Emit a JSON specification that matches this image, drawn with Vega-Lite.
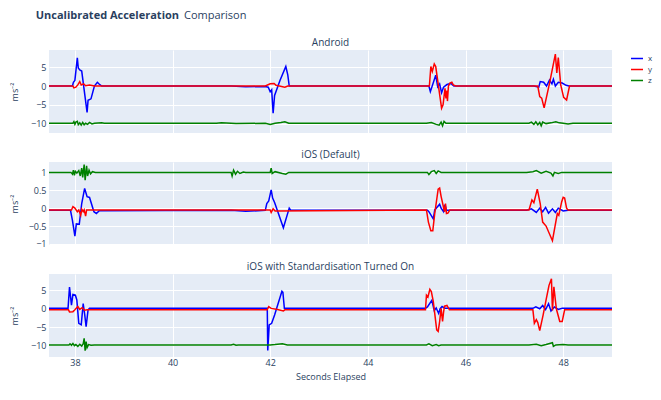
{
  "$schema": "https://vega.github.io/schema/vega-lite/v6.json",
  "padding": {"left": 10, "top": 10, "right": 2, "bottom": 5},
  "title": {"text": "Comparison", "anchor": "start", "fontSize": 11, "fontWeight": "normal", "dx": 174, "dy": 11, "offset": 0},
  "config": {
    "font": "Open Sans",
    "view": {"fill": "#E5ECF6", "stroke": null},
    "axis": {"grid": true, "gridColor": "white", "gridWidth": 1, "domain": false, "ticks": false, "labelColor": "#2a3f5f", "labelFontSize": 9, "labelPadding": 3, "titleColor": "#2a3f5f", "titleFontSize": 9, "titleFontWeight": "normal"},
    "title": {"fontSize": 10, "fontWeight": "normal", "color": "#2a3f5f", "offset": 2},
    "legend": {"labelColor": "#2a3f5f", "labelFontSize": 8}
  },
  "datasets": {
    "android": [
      {"s": "x", "t": 37.47, "v": 0}, {"s": "x", "t": 37.95, "v": 0}, {"s": "x", "t": 37.97, "v": 1.0}, {"s": "x", "t": 38.0, "v": 1.5},
      {"s": "x", "t": 38.05, "v": 7.5}, {"s": "x", "t": 38.07, "v": 4.8}, {"s": "x", "t": 38.1, "v": 4.3}, {"s": "x", "t": 38.14, "v": 4.0},
      {"s": "x", "t": 38.25, "v": -7.0}, {"s": "x", "t": 38.27, "v": -3.8}, {"s": "x", "t": 38.33, "v": -3.4}, {"s": "x", "t": 38.4, "v": 0.0},
      {"s": "x", "t": 38.46, "v": 1.0}, {"s": "x", "t": 38.49, "v": 0.6}, {"s": "x", "t": 38.55, "v": 0}, {"s": "x", "t": 41.2, "v": 0},
      {"s": "x", "t": 41.5, "v": -0.2}, {"s": "x", "t": 41.9, "v": -0.1}, {"s": "x", "t": 41.96, "v": -0.3}, {"s": "x", "t": 42.0, "v": -1.5},
      {"s": "x", "t": 42.03, "v": -1.0}, {"s": "x", "t": 42.06, "v": -7.2}, {"s": "x", "t": 42.09, "v": -2.5}, {"s": "x", "t": 42.2, "v": 1.5},
      {"s": "x", "t": 42.32, "v": 5.2}, {"s": "x", "t": 42.36, "v": 3.0}, {"s": "x", "t": 42.39, "v": 0}, {"s": "x", "t": 45.25, "v": 0},
      {"s": "x", "t": 45.28, "v": -1.5}, {"s": "x", "t": 45.39, "v": 2.9}, {"s": "x", "t": 45.43, "v": -0.2}, {"s": "x", "t": 45.47, "v": 0.6},
      {"s": "x", "t": 45.51, "v": -1.8}, {"s": "x", "t": 45.55, "v": -0.3}, {"s": "x", "t": 45.62, "v": 0.4}, {"s": "x", "t": 45.7, "v": 0.7},
      {"s": "x", "t": 45.76, "v": 0}, {"s": "x", "t": 47.4, "v": 0}, {"s": "x", "t": 47.5, "v": -0.3}, {"s": "x", "t": 47.53, "v": 1.2},
      {"s": "x", "t": 47.6, "v": 1.0}, {"s": "x", "t": 47.66, "v": 0}, {"s": "x", "t": 47.72, "v": 1.6}, {"s": "x", "t": 47.77, "v": 0.6},
      {"s": "x", "t": 47.8, "v": 1.8}, {"s": "x", "t": 47.84, "v": 0}, {"s": "x", "t": 47.9, "v": 1.0}, {"s": "x", "t": 47.98, "v": 0.8},
      {"s": "x", "t": 48.06, "v": 0.2}, {"s": "x", "t": 48.12, "v": 0}, {"s": "x", "t": 49.0, "v": 0},
      {"s": "y", "t": 37.47, "v": 0}, {"s": "y", "t": 37.96, "v": 0}, {"s": "y", "t": 37.98, "v": -0.5}, {"s": "y", "t": 38.02, "v": -0.3},
      {"s": "y", "t": 38.06, "v": 0.3}, {"s": "y", "t": 38.1, "v": 1.2}, {"s": "y", "t": 38.13, "v": 0.3}, {"s": "y", "t": 38.18, "v": 0.6},
      {"s": "y", "t": 38.22, "v": 0.1}, {"s": "y", "t": 38.3, "v": 0.3}, {"s": "y", "t": 38.4, "v": 0}, {"s": "y", "t": 41.9, "v": 0},
      {"s": "y", "t": 42.0, "v": 0.6}, {"s": "y", "t": 42.08, "v": 0.7}, {"s": "y", "t": 42.12, "v": 0.2}, {"s": "y", "t": 42.3, "v": -0.3},
      {"s": "y", "t": 42.36, "v": 0}, {"s": "y", "t": 45.26, "v": 0}, {"s": "y", "t": 45.29, "v": 5.2}, {"s": "y", "t": 45.32, "v": 3.9},
      {"s": "y", "t": 45.36, "v": 5.9}, {"s": "y", "t": 45.39, "v": 5.2}, {"s": "y", "t": 45.51, "v": -5.9}, {"s": "y", "t": 45.54, "v": -5.0},
      {"s": "y", "t": 45.58, "v": -0.6}, {"s": "y", "t": 45.6, "v": -3.3}, {"s": "y", "t": 45.62, "v": -1.2}, {"s": "y", "t": 45.63, "v": -4.0},
      {"s": "y", "t": 45.65, "v": 0}, {"s": "y", "t": 45.68, "v": 0.8}, {"s": "y", "t": 45.72, "v": 1.0}, {"s": "y", "t": 45.75, "v": 0.3},
      {"s": "y", "t": 45.8, "v": 0}, {"s": "y", "t": 47.48, "v": 0}, {"s": "y", "t": 47.52, "v": -2.8}, {"s": "y", "t": 47.56, "v": -3.2},
      {"s": "y", "t": 47.61, "v": -5.8}, {"s": "y", "t": 47.72, "v": 0.7}, {"s": "y", "t": 47.84, "v": 8.5}, {"s": "y", "t": 47.87, "v": 3.5},
      {"s": "y", "t": 47.9, "v": 7.6}, {"s": "y", "t": 47.95, "v": 0.3}, {"s": "y", "t": 48.01, "v": -3.0}, {"s": "y", "t": 48.07, "v": -3.7},
      {"s": "y", "t": 48.13, "v": 0}, {"s": "y", "t": 49.0, "v": 0},
      {"s": "z", "t": 37.47, "v": -9.9}, {"s": "z", "t": 37.96, "v": -9.9}, {"s": "z", "t": 37.98, "v": -9.5}, {"s": "z", "t": 38.0, "v": -10.2},
      {"s": "z", "t": 38.02, "v": -9.6}, {"s": "z", "t": 38.05, "v": -9.4}, {"s": "z", "t": 38.07, "v": -10.3}, {"s": "z", "t": 38.1, "v": -9.8},
      {"s": "z", "t": 38.13, "v": -10.4}, {"s": "z", "t": 38.16, "v": -9.7}, {"s": "z", "t": 38.19, "v": -10.3}, {"s": "z", "t": 38.22, "v": -9.9},
      {"s": "z", "t": 38.26, "v": -10.2}, {"s": "z", "t": 38.3, "v": -9.7}, {"s": "z", "t": 38.35, "v": -10.1}, {"s": "z", "t": 38.4, "v": -9.9},
      {"s": "z", "t": 38.55, "v": -9.8}, {"s": "z", "t": 38.6, "v": -9.9}, {"s": "z", "t": 40.9, "v": -9.9}, {"s": "z", "t": 41.0, "v": -9.8},
      {"s": "z", "t": 41.3, "v": -10.0}, {"s": "z", "t": 41.9, "v": -9.9}, {"s": "z", "t": 42.0, "v": -10.2}, {"s": "z", "t": 42.1, "v": -9.9},
      {"s": "z", "t": 42.22, "v": -9.7}, {"s": "z", "t": 42.3, "v": -9.5}, {"s": "z", "t": 42.38, "v": -9.9}, {"s": "z", "t": 44.5, "v": -9.9},
      {"s": "z", "t": 45.2, "v": -9.9}, {"s": "z", "t": 45.3, "v": -9.7}, {"s": "z", "t": 45.4, "v": -10.2}, {"s": "z", "t": 45.46, "v": -10.4},
      {"s": "z", "t": 45.5, "v": -9.6}, {"s": "z", "t": 45.53, "v": -10.6}, {"s": "z", "t": 45.56, "v": -9.4}, {"s": "z", "t": 45.6, "v": -9.9},
      {"s": "z", "t": 47.3, "v": -9.9}, {"s": "z", "t": 47.35, "v": -9.6}, {"s": "z", "t": 47.4, "v": -10.2}, {"s": "z", "t": 47.44, "v": -9.5},
      {"s": "z", "t": 47.48, "v": -10.3}, {"s": "z", "t": 47.52, "v": -9.7}, {"s": "z", "t": 47.55, "v": -10.6}, {"s": "z", "t": 47.58, "v": -9.6},
      {"s": "z", "t": 47.65, "v": -10.0}, {"s": "z", "t": 47.75, "v": -9.8}, {"s": "z", "t": 47.85, "v": -9.5}, {"s": "z", "t": 47.92, "v": -9.8},
      {"s": "z", "t": 48.0, "v": -9.9}, {"s": "z", "t": 48.1, "v": -10.1}, {"s": "z", "t": 48.2, "v": -9.9}, {"s": "z", "t": 49.0, "v": -9.9}
    ],
    "ios": [
      {"s": "x", "t": 37.47, "v": -0.06}, {"s": "x", "t": 37.91, "v": -0.06}, {"s": "x", "t": 37.95, "v": -0.34}, {"s": "x", "t": 38.0, "v": -0.78},
      {"s": "x", "t": 38.03, "v": -0.44}, {"s": "x", "t": 38.09, "v": -0.45}, {"s": "x", "t": 38.14, "v": 0.13}, {"s": "x", "t": 38.2, "v": 0.55},
      {"s": "x", "t": 38.25, "v": 0.32}, {"s": "x", "t": 38.3, "v": 0.3}, {"s": "x", "t": 38.39, "v": -0.1}, {"s": "x", "t": 38.44, "v": -0.15},
      {"s": "x", "t": 38.5, "v": -0.07}, {"s": "x", "t": 41.2, "v": -0.06}, {"s": "x", "t": 41.5, "v": -0.09}, {"s": "x", "t": 41.9, "v": -0.06},
      {"s": "x", "t": 41.93, "v": 0.13}, {"s": "x", "t": 41.97, "v": 0.2}, {"s": "x", "t": 42.02, "v": 0.51}, {"s": "x", "t": 42.05, "v": 0.28},
      {"s": "x", "t": 42.09, "v": 0.16}, {"s": "x", "t": 42.27, "v": -0.55}, {"s": "x", "t": 42.39, "v": 0.0}, {"s": "x", "t": 42.42, "v": -0.06},
      {"s": "x", "t": 45.22, "v": -0.06}, {"s": "x", "t": 45.25, "v": -0.1}, {"s": "x", "t": 45.34, "v": -0.3}, {"s": "x", "t": 45.37, "v": -0.05},
      {"s": "x", "t": 45.47, "v": 0.11}, {"s": "x", "t": 45.5, "v": 0.0}, {"s": "x", "t": 45.55, "v": -0.1}, {"s": "x", "t": 45.58, "v": 0.1},
      {"s": "x", "t": 45.61, "v": -0.06}, {"s": "x", "t": 47.25, "v": -0.06}, {"s": "x", "t": 47.35, "v": -0.02}, {"s": "x", "t": 47.45, "v": -0.12},
      {"s": "x", "t": 47.52, "v": 0.0}, {"s": "x", "t": 47.58, "v": -0.1}, {"s": "x", "t": 47.64, "v": 0.02}, {"s": "x", "t": 47.7, "v": -0.14},
      {"s": "x", "t": 47.78, "v": -0.02}, {"s": "x", "t": 47.84, "v": -0.12}, {"s": "x", "t": 47.9, "v": 0.0}, {"s": "x", "t": 48.0, "v": -0.08},
      {"s": "x", "t": 48.1, "v": -0.06}, {"s": "x", "t": 49.0, "v": -0.06},
      {"s": "y", "t": 37.47, "v": -0.05}, {"s": "y", "t": 37.93, "v": -0.05}, {"s": "y", "t": 37.96, "v": 0.04}, {"s": "y", "t": 38.0, "v": 0.0},
      {"s": "y", "t": 38.05, "v": -0.1}, {"s": "y", "t": 38.08, "v": -0.05}, {"s": "y", "t": 38.12, "v": -0.2}, {"s": "y", "t": 38.14, "v": -0.03},
      {"s": "y", "t": 38.17, "v": -0.1}, {"s": "y", "t": 38.19, "v": -0.05}, {"s": "y", "t": 38.22, "v": -0.22}, {"s": "y", "t": 38.24, "v": -0.05},
      {"s": "y", "t": 38.4, "v": -0.05}, {"s": "y", "t": 42.0, "v": -0.05}, {"s": "y", "t": 42.02, "v": -0.12}, {"s": "y", "t": 42.06, "v": -0.02},
      {"s": "y", "t": 42.1, "v": -0.08}, {"s": "y", "t": 45.2, "v": -0.05}, {"s": "y", "t": 45.24, "v": -0.39}, {"s": "y", "t": 45.29, "v": -0.63},
      {"s": "y", "t": 45.33, "v": -0.63}, {"s": "y", "t": 45.37, "v": -0.15}, {"s": "y", "t": 45.44, "v": 0.53}, {"s": "y", "t": 45.47, "v": 0.56},
      {"s": "y", "t": 45.5, "v": 0.33}, {"s": "y", "t": 45.57, "v": -0.1}, {"s": "y", "t": 45.59, "v": 0.13}, {"s": "y", "t": 45.61, "v": -0.15},
      {"s": "y", "t": 45.64, "v": -0.14}, {"s": "y", "t": 45.68, "v": -0.05}, {"s": "y", "t": 47.3, "v": -0.05}, {"s": "y", "t": 47.36, "v": 0.23},
      {"s": "y", "t": 47.4, "v": 0.15}, {"s": "y", "t": 47.47, "v": 0.53}, {"s": "y", "t": 47.53, "v": 0.13}, {"s": "y", "t": 47.58, "v": -0.39},
      {"s": "y", "t": 47.65, "v": -0.5}, {"s": "y", "t": 47.78, "v": -0.91}, {"s": "y", "t": 47.83, "v": -0.53}, {"s": "y", "t": 47.88, "v": -0.15},
      {"s": "y", "t": 47.91, "v": -0.2}, {"s": "y", "t": 47.97, "v": 0.18}, {"s": "y", "t": 48.0, "v": 0.3}, {"s": "y", "t": 48.03, "v": 0.28},
      {"s": "y", "t": 48.07, "v": 0.0}, {"s": "y", "t": 48.1, "v": -0.05}, {"s": "y", "t": 49.0, "v": -0.05},
      {"s": "z", "t": 37.47, "v": 1.0}, {"s": "z", "t": 37.92, "v": 1.0}, {"s": "z", "t": 37.95, "v": 0.95}, {"s": "z", "t": 37.97, "v": 1.06},
      {"s": "z", "t": 37.99, "v": 0.92}, {"s": "z", "t": 38.01, "v": 1.03}, {"s": "z", "t": 38.04, "v": 0.98}, {"s": "z", "t": 38.08, "v": 1.05},
      {"s": "z", "t": 38.11, "v": 0.9}, {"s": "z", "t": 38.14, "v": 1.12}, {"s": "z", "t": 38.16, "v": 0.86}, {"s": "z", "t": 38.19, "v": 1.22},
      {"s": "z", "t": 38.21, "v": 0.78}, {"s": "z", "t": 38.24, "v": 1.18}, {"s": "z", "t": 38.26, "v": 0.9}, {"s": "z", "t": 38.29, "v": 1.06},
      {"s": "z", "t": 38.32, "v": 0.96}, {"s": "z", "t": 38.36, "v": 1.02}, {"s": "z", "t": 38.42, "v": 1.0}, {"s": "z", "t": 41.2, "v": 1.0},
      {"s": "z", "t": 41.22, "v": 0.9}, {"s": "z", "t": 41.25, "v": 1.06}, {"s": "z", "t": 41.29, "v": 0.95}, {"s": "z", "t": 41.33, "v": 1.03},
      {"s": "z", "t": 41.38, "v": 0.97}, {"s": "z", "t": 41.45, "v": 1.01}, {"s": "z", "t": 41.5, "v": 1.0}, {"s": "z", "t": 42.0, "v": 1.0},
      {"s": "z", "t": 42.02, "v": 1.12}, {"s": "z", "t": 42.04, "v": 0.97}, {"s": "z", "t": 42.1, "v": 1.02}, {"s": "z", "t": 42.25, "v": 0.97},
      {"s": "z", "t": 42.32, "v": 0.95}, {"s": "z", "t": 42.38, "v": 1.0}, {"s": "z", "t": 45.22, "v": 1.0}, {"s": "z", "t": 45.25, "v": 0.94},
      {"s": "z", "t": 45.3, "v": 1.02}, {"s": "z", "t": 45.36, "v": 1.05}, {"s": "z", "t": 45.4, "v": 0.97}, {"s": "z", "t": 45.44, "v": 1.04},
      {"s": "z", "t": 45.5, "v": 1.0}, {"s": "z", "t": 47.25, "v": 1.0}, {"s": "z", "t": 47.38, "v": 1.02}, {"s": "z", "t": 47.45, "v": 1.05},
      {"s": "z", "t": 47.55, "v": 0.98}, {"s": "z", "t": 47.65, "v": 1.03}, {"s": "z", "t": 47.75, "v": 0.98}, {"s": "z", "t": 47.79, "v": 0.9},
      {"s": "z", "t": 47.82, "v": 1.0}, {"s": "z", "t": 47.9, "v": 0.97}, {"s": "z", "t": 47.97, "v": 1.0}, {"s": "z", "t": 49.0, "v": 1.0}
    ],
    "iosstd": [
      {"s": "x", "t": 37.47, "v": 0.1}, {"s": "x", "t": 37.86, "v": 0.1}, {"s": "x", "t": 37.89, "v": 5.9}, {"s": "x", "t": 37.93, "v": 1.0},
      {"s": "x", "t": 37.96, "v": 3.9}, {"s": "x", "t": 38.01, "v": 3.7}, {"s": "x", "t": 38.04, "v": 2.4}, {"s": "x", "t": 38.08, "v": -4.0},
      {"s": "x", "t": 38.13, "v": -4.4}, {"s": "x", "t": 38.17, "v": 1.4}, {"s": "x", "t": 38.2, "v": -1.5}, {"s": "x", "t": 38.23, "v": -4.9},
      {"s": "x", "t": 38.27, "v": -0.3}, {"s": "x", "t": 38.3, "v": 0.1}, {"s": "x", "t": 41.94, "v": 0.1}, {"s": "x", "t": 41.95, "v": -11.4},
      {"s": "x", "t": 41.98, "v": -4.4}, {"s": "x", "t": 42.03, "v": -4.0}, {"s": "x", "t": 42.09, "v": -1.7}, {"s": "x", "t": 42.24, "v": 4.8},
      {"s": "x", "t": 42.26, "v": 4.5}, {"s": "x", "t": 42.29, "v": 0.1}, {"s": "x", "t": 45.18, "v": 0.1}, {"s": "x", "t": 45.22, "v": 0.5},
      {"s": "x", "t": 45.31, "v": 2.3}, {"s": "x", "t": 45.36, "v": -0.5}, {"s": "x", "t": 45.4, "v": 0.2}, {"s": "x", "t": 45.45, "v": -1.3},
      {"s": "x", "t": 45.48, "v": 0.0}, {"s": "x", "t": 45.52, "v": 0.6}, {"s": "x", "t": 45.58, "v": 0.1}, {"s": "x", "t": 47.38, "v": 0.1},
      {"s": "x", "t": 47.44, "v": 0.5}, {"s": "x", "t": 47.52, "v": 0.0}, {"s": "x", "t": 47.58, "v": 0.9}, {"s": "x", "t": 47.64, "v": -0.2},
      {"s": "x", "t": 47.7, "v": 1.4}, {"s": "x", "t": 47.75, "v": -0.6}, {"s": "x", "t": 47.82, "v": 0.5}, {"s": "x", "t": 47.9, "v": -0.2},
      {"s": "x", "t": 47.98, "v": 0.1}, {"s": "x", "t": 49.0, "v": 0.1},
      {"s": "y", "t": 37.47, "v": -0.3}, {"s": "y", "t": 37.87, "v": -0.3}, {"s": "y", "t": 37.89, "v": -0.9}, {"s": "y", "t": 37.96, "v": -0.8},
      {"s": "y", "t": 38.0, "v": -0.3}, {"s": "y", "t": 38.06, "v": 0.6}, {"s": "y", "t": 38.1, "v": -0.2}, {"s": "y", "t": 38.15, "v": 0.3},
      {"s": "y", "t": 38.2, "v": -0.4}, {"s": "y", "t": 38.25, "v": -0.3}, {"s": "y", "t": 41.94, "v": -0.3}, {"s": "y", "t": 41.97, "v": 0.6},
      {"s": "y", "t": 42.02, "v": 0.1}, {"s": "y", "t": 42.15, "v": -0.2}, {"s": "y", "t": 42.27, "v": -0.6}, {"s": "y", "t": 42.3, "v": -0.3},
      {"s": "y", "t": 45.18, "v": -0.3}, {"s": "y", "t": 45.2, "v": 3.7}, {"s": "y", "t": 45.23, "v": 3.2}, {"s": "y", "t": 45.27, "v": 5.3},
      {"s": "y", "t": 45.3, "v": 4.7}, {"s": "y", "t": 45.34, "v": 2.0}, {"s": "y", "t": 45.41, "v": -5.8}, {"s": "y", "t": 45.44, "v": -6.2},
      {"s": "y", "t": 45.47, "v": -3.5}, {"s": "y", "t": 45.5, "v": 0.1}, {"s": "y", "t": 45.53, "v": -3.5}, {"s": "y", "t": 45.55, "v": -1.0},
      {"s": "y", "t": 45.57, "v": 0.7}, {"s": "y", "t": 45.62, "v": 0.9}, {"s": "y", "t": 45.67, "v": -0.3}, {"s": "y", "t": 47.38, "v": -0.3},
      {"s": "y", "t": 47.41, "v": -4.0}, {"s": "y", "t": 47.45, "v": -3.0}, {"s": "y", "t": 47.48, "v": -3.8}, {"s": "y", "t": 47.52, "v": -6.0},
      {"s": "y", "t": 47.59, "v": -1.7}, {"s": "y", "t": 47.65, "v": 2.4}, {"s": "y", "t": 47.71, "v": 6.4}, {"s": "y", "t": 47.76, "v": 8.2},
      {"s": "y", "t": 47.78, "v": -0.5}, {"s": "y", "t": 47.81, "v": 6.0}, {"s": "y", "t": 47.86, "v": 0.0}, {"s": "y", "t": 47.93, "v": -3.5},
      {"s": "y", "t": 47.98, "v": -3.5}, {"s": "y", "t": 48.03, "v": -0.3}, {"s": "y", "t": 49.0, "v": -0.3},
      {"s": "z", "t": 37.47, "v": -9.9}, {"s": "z", "t": 37.88, "v": -9.9}, {"s": "z", "t": 37.9, "v": -9.6}, {"s": "z", "t": 37.93, "v": -10.0},
      {"s": "z", "t": 37.96, "v": -9.5}, {"s": "z", "t": 37.99, "v": -10.1}, {"s": "z", "t": 38.02, "v": -9.8}, {"s": "z", "t": 38.06, "v": -10.3},
      {"s": "z", "t": 38.1, "v": -9.7}, {"s": "z", "t": 38.14, "v": -10.2}, {"s": "z", "t": 38.17, "v": -9.6}, {"s": "z", "t": 38.19, "v": -8.1},
      {"s": "z", "t": 38.21, "v": -11.5}, {"s": "z", "t": 38.23, "v": -9.0}, {"s": "z", "t": 38.25, "v": -10.6}, {"s": "z", "t": 38.28, "v": -9.8},
      {"s": "z", "t": 38.33, "v": -10.0}, {"s": "z", "t": 38.4, "v": -9.9}, {"s": "z", "t": 41.2, "v": -9.9}, {"s": "z", "t": 41.25, "v": -9.7},
      {"s": "z", "t": 41.3, "v": -10.0}, {"s": "z", "t": 41.35, "v": -9.9}, {"s": "z", "t": 42.0, "v": -9.9}, {"s": "z", "t": 42.1, "v": -9.8},
      {"s": "z", "t": 42.25, "v": -9.6}, {"s": "z", "t": 42.35, "v": -9.9}, {"s": "z", "t": 45.2, "v": -9.9}, {"s": "z", "t": 45.25, "v": -9.6},
      {"s": "z", "t": 45.32, "v": -10.1}, {"s": "z", "t": 45.4, "v": -9.8}, {"s": "z", "t": 45.45, "v": -10.1}, {"s": "z", "t": 45.5, "v": -9.9},
      {"s": "z", "t": 47.3, "v": -9.9}, {"s": "z", "t": 47.45, "v": -9.7}, {"s": "z", "t": 47.55, "v": -10.1}, {"s": "z", "t": 47.65, "v": -9.8},
      {"s": "z", "t": 47.78, "v": -9.3}, {"s": "z", "t": 47.8, "v": -10.3}, {"s": "z", "t": 47.85, "v": -9.9}, {"s": "z", "t": 48.0, "v": -9.8},
      {"s": "z", "t": 48.1, "v": -9.9}, {"s": "z", "t": 49.0, "v": -9.9}
    ]
  },
  "vconcat": [
    {
      "title": {"text": "\u200b\u00a0\u00a0\u00a0\u00a0\u00a0\u00a0\u00a0\u00a0\u00a0Uncalibrated Acceleration", "anchor": "start", "fontSize": 11, "fontWeight": "bold", "offset": 17},
      "spacing": 29,
      "bounds": "flush",
      "resolve": {"scale": {"x": "independent", "y": "independent", "color": "shared"}},
      "vconcat": [
        {
          "title": "Android",
          "width": 563,
          "height": 83,
          "data": {"name": "android"},
          "mark": {"type": "line", "strokeWidth": 1.5, "clip": true},
          "encoding": {
            "x": {"field": "t", "type": "quantitative", "scale": {"domain": [37.47, 49.0], "nice": false, "zero": false}, "axis": {"values": [38, 40, 42, 44, 46, 48], "labels": false, "title": null}},
            "y": {"field": "v", "type": "quantitative", "scale": {"domain": [-12.5, 9.6], "nice": false, "zero": false}, "axis": {"values": [-10, -5, 0, 5], "format": "~r", "title": "ms⁻²", "titleX": -30}},
            "color": {"field": "s", "type": "nominal", "scale": {"domain": ["x", "y", "z"], "range": ["#0000ff", "#ff0000", "#008000"]}, "legend": {"title": null, "orient": "none", "legendX": 582, "legendY": 3, "symbolType": "M-2,0H1", "symbolSize": 121, "symbolStrokeWidth": 1.5, "rowPadding": 0, "clipHeight": 11}}
          }
        },
        {
          "title": "iOS (Default)",
          "width": 563,
          "height": 83,
          "data": {"name": "ios"},
          "mark": {"type": "line", "strokeWidth": 1.5, "clip": true},
          "encoding": {
            "x": {"field": "t", "type": "quantitative", "scale": {"domain": [37.47, 49.0], "nice": false, "zero": false}, "axis": {"values": [38, 40, 42, 44, 46, 48], "labels": false, "title": null}},
            "y": {"field": "v", "type": "quantitative", "scale": {"domain": [-1.03, 1.29], "nice": false, "zero": false}, "axis": {"values": [-1, -0.5, 0, 0.5, 1], "format": "~r", "title": "ms⁻²", "titleX": -30}},
            "color": {"field": "s", "type": "nominal"}
          }
        },
        {
          "title": "iOS with Standardisation Turned On",
          "width": 563,
          "height": 83,
          "data": {"name": "iosstd"},
          "mark": {"type": "line", "strokeWidth": 1.5, "clip": true},
          "encoding": {
            "x": {"field": "t", "type": "quantitative", "scale": {"domain": [37.47, 49.0], "nice": false, "zero": false}, "axis": {"values": [38, 40, 42, 44, 46, 48], "format": "d", "labelPadding": 1, "title": "Seconds Elapsed", "titlePadding": 5}},
            "y": {"field": "v", "type": "quantitative", "scale": {"domain": [-13.2, 9.5], "nice": false, "zero": false}, "axis": {"values": [-10, -5, 0, 5], "format": "~r", "title": "ms⁻²", "titleX": -30}},
            "color": {"field": "s", "type": "nominal"}
          }
        }
      ]
    }
  ]
}
